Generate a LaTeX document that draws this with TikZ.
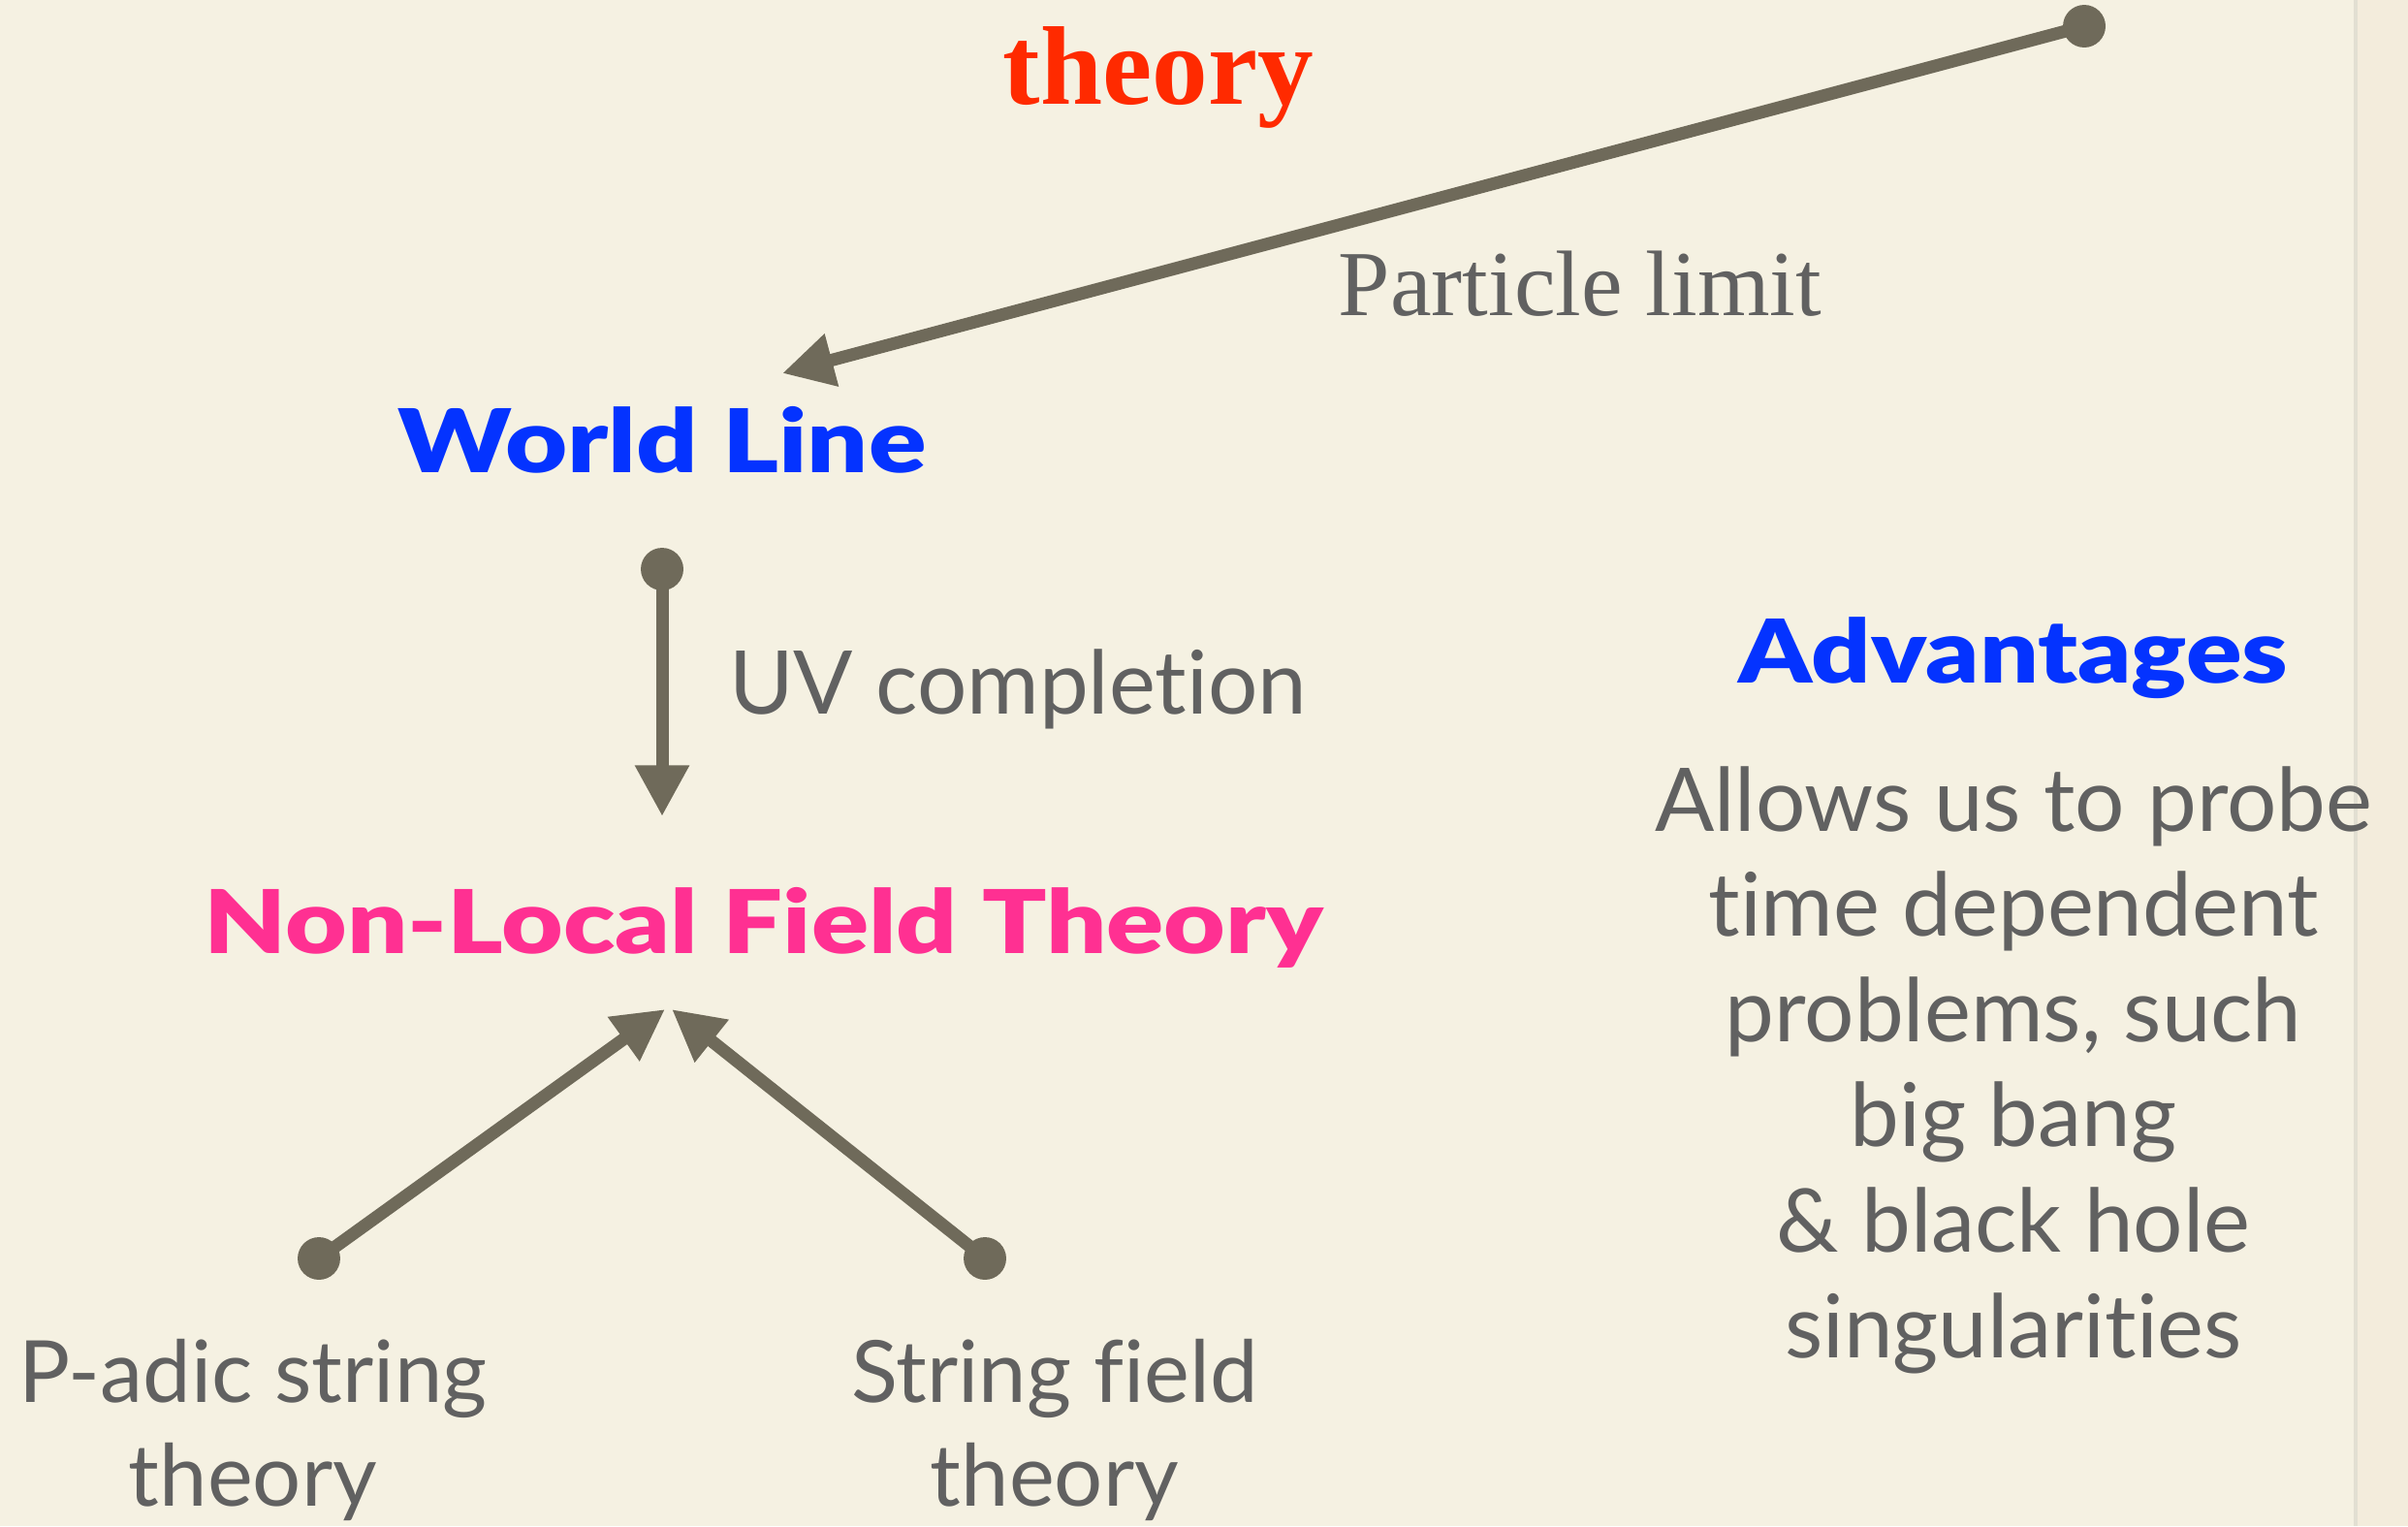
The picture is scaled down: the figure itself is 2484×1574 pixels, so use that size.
\documentclass[tikz,border=0pt]{standalone}
\usepackage{fontspec}
\setmainfont{Liberation Serif}
\newfontfamily\gill{Lato}[Ligatures=NoCommon]
\newfontfamily\heavy{Lato Black}
\usetikzlibrary{arrows.meta}
\definecolor{bg}{HTML}{F5F1E2}
\definecolor{bgr}{HTML}{F3ECDC}
\definecolor{edge}{HTML}{E2DFD2}
\definecolor{arrowc}{HTML}{6F6A5A}
\definecolor{grayt}{HTML}{616161}
\definecolor{bluet}{HTML}{0433FF}
\definecolor{pinkt}{HTML}{FF3092}
\definecolor{redt}{HTML}{FF2A00}
\tikzset{
  conn/.style={draw=arrowc, line width=3.7pt, -{Triangle[length=15pt,width=15pt]}},
  dotnode/.style={circle, fill=arrowc, inner sep=0pt, minimum size=12.5pt},
  lbl/.style={inner sep=0pt, anchor=base},
  graytext/.style={lbl, text=grayt, font=\gill\fontsize{25.8pt}{30.9pt}\selectfont, align=center},
  headtext/.style={lbl, font=\heavy\fontsize{25.8pt}{30.9pt}\selectfont},
}
\begin{document}
\begin{tikzpicture}[x=0.1mm,y=-0.1mm]
\useasboundingbox (0,0) rectangle (2484,1574);
\fill[bg] (0,0) rectangle (2484,1574);
\fill[bgr] (2432,0) rectangle (2484,1574);
\draw[edge, line width=1.1pt] (2430,0) -- (2430,1574);

% texts
\node[lbl, text=redt, font=\bfseries\fontsize{32.8pt}{36pt}\selectfont] (theory) at (1195,107) {theory};
\node[lbl, text=grayt, font=\fontsize{27.3pt}{30pt}\selectfont] (plimit) at (1630,325) {Particle limit};
\node[headtext, text=bluet] (wl) at (683,487) {\scalebox{1.22}[1]{World Line}};
\node[graytext] (uv) at (1050,736) {UV completion};
\node[headtext, text=pinkt] (nl) at (788,983) {\scalebox{1.21}[1]{Non-Local Field Theory}};
\node[headtext, text=bluet] (adv) at (2077,704) {\scalebox{1.18}[1]{Advantages}};
\node[graytext] (allows) at (2077,1400) {Allows us to probe\\time dependent\\problems, such\\big bang\\\& black hole\\singularities};
\node[graytext, font=\gill\fontsize{25.2pt}{30.4pt}\selectfont] (padic) at (261,1553) {P-adic string\\theory};
\node[graytext, font=\gill\fontsize{25.2pt}{30.4pt}\selectfont] (sft) at (1088,1553) {String field\\theory};

% dots and tips
\node[dotnode] (d0) at (2150,27) {};
\coordinate (t0) at (807,385);
\node[dotnode] (d1) at (683,587) {};
\coordinate (t1) at (683,842);
\node[dotnode] (d2) at (329,1298) {};
\coordinate (t2) at (686,1041);
\node[dotnode] (d3) at (1016,1298) {};
\coordinate (t3) at (693,1041);

\draw[conn] (d0.center) -- (t0);
\draw[conn] (d1.center) -- (t1);
\draw[conn] (d2.center) -- (t2);
\draw[conn] (d3.center) -- (t3);
\end{tikzpicture}
\end{document}
